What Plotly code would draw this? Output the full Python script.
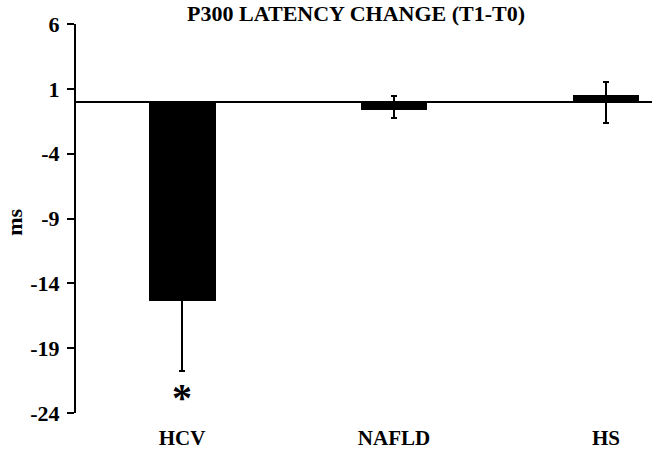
import plotly.graph_objects as go

# data
groups = ["HCV", "NAFLD", "HS"]
change_ms = [-15.4, -0.6, 0.5]
err_plus = [5.35, 1.05, 1.0]
err_minus = [5.35, 0.65, 2.15]
y_ticks = [6, 1, -4, -9, -14, -19, -24]
y_tick_text = ["6", "1", "-4", "-9", "-14", "-19", "-24"]
signif = ["*", "", ""]

serif = "Liberation Serif, Times New Roman, serif"

fig = go.Figure()
fig.add_trace(go.Bar(
    x=groups,
    y=change_ms,
    width=0.316,
    marker=dict(color="black", line=dict(width=0)),
    error_y=dict(type="data", symmetric=False, array=err_plus, arrayminus=err_minus,
                 color="black", thickness=2, width=3),
    showlegend=False,
))

# significance marks under the error bars
for g, v, em, s in zip(groups, change_ms, err_minus, signif):
    if s:
        fig.add_annotation(x=g, y=v - em, text=s, showarrow=False, yanchor="top",
                           yshift=-2, font=dict(family=serif, size=40, color="black", weight="bold"))

# y axis title
fig.add_annotation(xref="paper", yref="paper", x=-0.108, y=0.491, text="ms", textangle=-90,
                   xanchor="center", yanchor="middle",
                   showarrow=False, font=dict(family=serif, size=22, color="black", weight="bold"))

fig.update_layout(
    width=657, height=451,
    margin=dict(l=76, r=5, t=24, b=38),
    paper_bgcolor="white", plot_bgcolor="white",
    title=dict(text="P300 LATENCY CHANGE (T1-T0)", x=0.542, xanchor="center",
               y=0.97, yanchor="middle",
               font=dict(family=serif, size=22, color="black", weight="bold")),
    bargap=0,
)
fig.update_xaxes(range=[-0.5, 2.217], showline=False, showgrid=False, ticks="",
                 ticklabelstandoff=10, automargin=False,
                 tickfont=dict(family=serif, size=21, color="black", weight="bold"))
fig.update_yaxes(range=[-24, 6], tickvals=y_ticks, ticktext=y_tick_text, showgrid=False,
                 showline=True, linecolor="black", linewidth=2,
                 ticks="outside", ticklen=7, tickwidth=2, tickcolor="black",
                 ticklabelstandoff=3, automargin=False,
                 zeroline=True, zerolinecolor="black", zerolinewidth=2,
                 tickfont=dict(family=serif, size=22, color="black", weight="bold"))

# drop the browser's default body margin so the figure sits at the page corner
fig.write_html("out.html", config={"displayModeBar": False},
               post_script="document.body.style.margin='0';")
